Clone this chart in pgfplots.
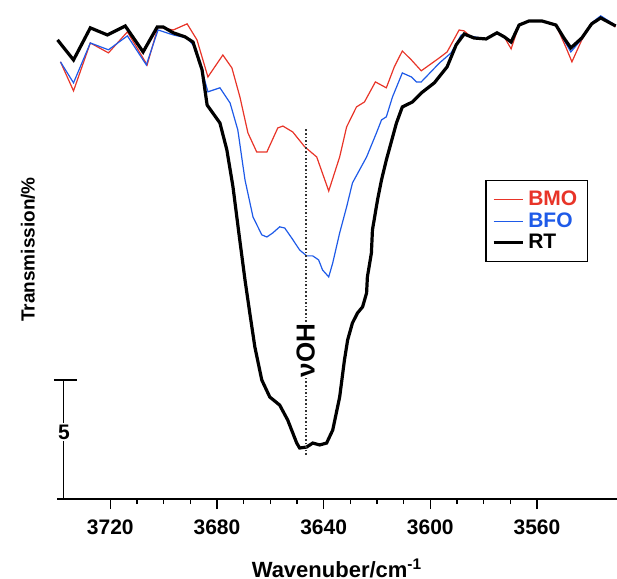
\documentclass[border=0pt]{standalone}
\usepackage{fontspec}
\setmainfont{Liberation Sans}
\usepackage{pgfplots}
\pgfplotsset{compat=1.18}
\definecolor{bmored}{RGB}{232,52,40}
\definecolor{bfoblue}{RGB}{30,90,232}

\begin{document}
\begin{tikzpicture}
\begin{axis}[
  name=ax,
  scale only axis,
  width=280pt, height=249.5pt,
  xmin=3530, xmax=3740, ymin=0, ymax=21.14,
  x dir=reverse,
  axis x line*=bottom,
  axis y line=none,
  ytick=\empty,
  xtick={3560,3600,3640,3680,3720},
  minor x tick num=3,
  tick align=outside,
  major tick length=5pt,
  minor tick length=2.5pt,
  every tick/.style={black, line width=0.6pt},
  axis line style={line width=0.6pt},
  /pgf/number format/assume math mode=true,
  /pgf/number format/1000 sep={},
  xticklabel style={font=\fontsize{10.5}{12}\bfseries, yshift=-2pt},
  xlabel={Wavenuber/cm\textsuperscript{-1}},
  xlabel style={font=\fontsize{11}{13}\bfseries, yshift=-5pt},
  clip=false,
  legend style={at={(rel axis cs:0.948,0.639)}, anchor=north east,
    draw=black, line width=0.6pt, font=\fontsize{10.5}{12}\bfseries,
    row sep=-2pt, inner sep=3pt},
  legend image post style={xscale=0.85},
  legend cell align=left,
]
% BMO
\addplot[bmored, line width=0.6pt] coordinates {
(3738.7,18.52) (3733.8,17.29) (3727.5,19.32) (3720.7,18.90) (3713.6,19.79)
(3706.2,18.39) (3702.1,20.00) (3696.4,19.87) (3691.2,20.13) (3687.5,19.45)
(3683.4,17.88) (3677.8,18.81) (3674.4,18.26) (3671.4,17.03) (3668.4,15.51)
(3665.1,14.70) (3661.3,14.70) (3657.2,15.72) (3655.3,15.80) (3651.6,15.55)
(3647.1,14.92) (3642.6,14.49) (3638.1,13.05) (3634.0,14.49) (3631.4,15.76)
(3627.7,16.61) (3624.7,16.82) (3620.6,17.67) (3616.5,17.42) (3613.5,18.31)
(3610.5,18.98) (3607.1,18.60) (3603.4,18.14) (3596.6,18.69) (3593.7,18.94)
(3589.2,19.87) (3587.3,19.83) (3584.3,19.53) (3579.1,19.49) (3575.0,19.75)
(3572.3,19.58) (3569.7,19.07) (3566.7,20.08) (3563.0,20.25) (3558.1,20.25)
(3552.9,20.08) (3549.2,19.15) (3546.9,18.52) (3543.2,19.45) (3539.5,20.17)
(3536.1,20.42) (3532.0,20.13) (3530.5,20.00)
};
\addlegendentry{\textcolor{bmored}{BMO}}
% BFO
\addplot[bfoblue, line width=0.6pt] coordinates {
(3738.7,18.52) (3733.8,17.63) (3727.5,19.32) (3720.7,19.03) (3713.6,19.62)
(3706.5,18.39) (3702.1,19.87) (3696.4,19.66) (3691.2,19.53) (3689.0,19.24)
(3686.4,18.47) (3683.4,17.25) (3678.9,17.42) (3675.1,16.78) (3672.2,15.64)
(3669.5,13.52) (3666.5,11.95) (3663.2,11.19) (3661.3,11.10) (3659.1,11.27)
(3656.5,11.53) (3654.6,11.48) (3652.0,11.06) (3649.0,10.55) (3646.4,10.30)
(3644.1,10.30) (3641.9,10.13) (3640.4,9.70) (3638.1,9.41) (3636.6,10.00)
(3634.0,11.27) (3631.4,12.37) (3629.2,13.39) (3623.9,14.49) (3620.2,15.51)
(3618.3,16.06) (3616.5,16.19) (3614.2,17.03) (3610.5,18.05) (3607.1,17.88)
(3605.2,17.67) (3603.4,17.67) (3596.6,18.47) (3592.2,18.90) (3588.4,19.66)
(3585.4,19.62) (3579.1,19.49) (3575.0,19.75) (3572.3,19.58) (3569.7,19.32)
(3566.7,20.08) (3563.0,20.25) (3558.1,20.25) (3552.9,20.08) (3549.9,19.45)
(3547.3,18.94) (3543.2,19.49) (3539.5,20.17) (3536.1,20.47) (3532.0,20.17)
(3530.5,20.04)
};
\addlegendentry{\textcolor{bfoblue}{BFO}}
% RT
\addplot[black, line width=1.6pt] coordinates {
(3739.8,19.45) (3733.8,18.60) (3727.5,19.96) (3721.1,19.66) (3714.4,20.04)
(3707.7,18.94) (3702.4,20.00) (3700.2,20.00) (3696.4,19.75) (3692.0,19.58)
(3689.0,19.36) (3685.6,18.18) (3683.7,16.69) (3678.9,15.93) (3676.3,14.79)
(3674.0,13.22) (3671.8,11.27) (3669.5,9.28) (3667.7,7.88) (3665.8,6.44)
(3663.2,5.04) (3660.2,4.32) (3656.5,3.98) (3653.5,3.35) (3650.1,2.37)
(3649.0,2.16) (3646.4,2.20) (3644.1,2.37) (3641.5,2.29) (3638.9,2.37)
(3636.6,2.92) (3634.0,4.32) (3632.2,5.89) (3631.0,6.74) (3629.2,7.46)
(3627.3,7.88) (3625.4,8.14) (3623.9,8.73) (3623.6,9.41) (3622.1,10.42)
(3621.7,11.40) (3619.8,12.67) (3618.3,13.52) (3616.5,14.36) (3612.7,15.93)
(3610.5,16.61) (3606.7,16.82) (3603.4,17.20) (3598.5,17.63) (3593.7,18.31)
(3590.3,19.24) (3587.3,19.70) (3583.6,19.53) (3579.1,19.49) (3575.0,19.75)
(3572.3,19.58) (3569.7,19.36) (3566.7,20.08) (3563.0,20.25) (3558.1,20.25)
(3552.9,20.08) (3549.9,19.53) (3547.3,19.11) (3543.2,19.53) (3539.5,20.13)
(3536.1,20.38) (3532.0,20.13) (3530.5,20.04)
};
\addlegendentry{RT}

% dotted marker line and band label
\draw[densely dotted, line width=0.8pt, black!80] (axis cs:3646.7,1.86) -- (axis cs:3646.7,15.68);
\node[rotate=90, fill=white, inner sep=0.6pt, font=\fontsize{13}{15}\bfseries]
  at (axis cs:3646.7,6.3) {νOH};

% scale bar (5 %)
\draw[line width=0.6pt] (axis cs:3737.6,0) -- (axis cs:3737.6,5.04);
\draw[line width=0.6pt] (axis cs:3741.2,5.04) -- (axis cs:3732.4,5.04);
\node[fill=white, inner sep=1pt, font=\fontsize{10.5}{12}\bfseries]
  at (axis cs:3737.4,2.84) {5};

% y label
\node[rotate=90, font=\fontsize{9.5}{11}\bfseries]
  at ([xshift=-14.5pt]rel axis cs:0,0.5) {Transmission/\%};
\end{axis}
\pgfresetboundingbox
\path ([xshift=-28.5pt,yshift=-40pt]ax.south west) rectangle (ax.north east);
\end{tikzpicture}
\end{document}
